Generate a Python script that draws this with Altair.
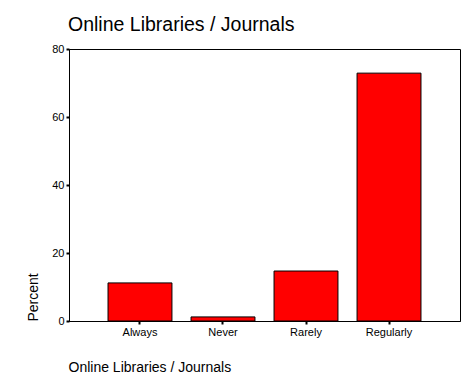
import altair as alt
import pandas as pd

categories = ["Always", "Never", "Rarely", "Regularly"]
percent = [11.2, 1.2, 14.7, 72.9]

df = pd.DataFrame({"cat": categories, "pct": percent})

FONT = "Liberation Sans"

chart = alt.Chart(df).mark_bar(
    color="#ff0000", stroke="black", strokeWidth=1
).encode(
    x=alt.X("cat:N", sort=categories,
            scale=alt.Scale(paddingInner=0.23, paddingOuter=0.47),
            axis=alt.Axis(title="Online Libraries / Journals", labelAngle=0,
                          labelFont=FONT, labelFontSize=11, labelColor="black",
                          labelPadding=2, tickSize=3, tickWidth=2, tickColor="black",
                          domainColor="black", domainWidth=1,
                          titleFont=FONT, titleFontSize=14, titleFontWeight="normal",
                          titleColor="black", titleAnchor="start", titleAlign="left",
                          titleX=-1, titleY=50, titleBaseline="alphabetic")),
    y=alt.Y("pct:Q", scale=alt.Scale(domain=[0, 80]),
            axis=alt.Axis(title="Percent", values=[0, 20, 40, 60, 80], grid=False,
                          labelFont=FONT, labelFontSize=11, labelColor="black",
                          labelPadding=2, tickSize=3, tickWidth=2, tickColor="black",
                          domainColor="black", domainWidth=1,
                          titleFont=FONT, titleFontSize=14, titleFontWeight="normal",
                          titleColor="black", titleAngle=270, titleAlign="left",
                          titleBaseline="alphabetic", titleX=-32, titleY=272)),
).properties(
    width=391, height=272,
    title=alt.TitleParams("Online Libraries / Journals", anchor="start", frame="group",
                          font=FONT, fontSize=19.5, fontWeight="normal", color="black",
                          offset=8, dx=-1),
    autosize=alt.AutoSizeParams(type="none"),
    padding={"left": 61, "top": 41, "right": 8, "bottom": 60},
).configure(
    background="white"
).configure_view(
    stroke="black", strokeWidth=1
)

chart.save("out.html", embed_options={"renderer": "svg", "actions": False})
